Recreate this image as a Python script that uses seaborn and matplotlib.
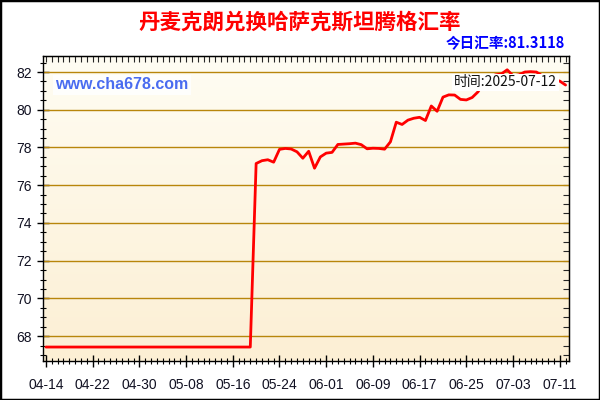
import matplotlib
matplotlib.use("Agg")
import matplotlib.pyplot as plt
import matplotlib.dates as mdates
from matplotlib.colors import LinearSegmentedColormap
from matplotlib.patches import Rectangle
from matplotlib.ticker import MultipleLocator
import numpy as np
import pandas as pd
import seaborn as sns

# daily DKK -> KZT rate, 2025-04-14 .. 2025-07-12
start_date = "2025-04-14"
end_date = "2025-07-12"
rates = [
    67.42, 67.42, 67.42, 67.42, 67.42, 67.42, 67.42, 67.42, 67.42, 67.42,
    67.42, 67.42, 67.42, 67.42, 67.42, 67.42, 67.42, 67.42, 67.42, 67.42,
    67.42, 67.42, 67.42, 67.42, 67.42, 67.42, 67.42, 67.42, 67.42, 67.42,
    67.42, 67.42, 67.42, 67.42, 67.42, 67.42, 77.15, 77.30, 77.35, 77.22,
    77.90, 77.95, 77.92, 77.77, 77.43, 77.80, 76.90, 77.50, 77.70, 77.74,
    78.16, 78.18, 78.20, 78.23, 78.15, 77.93, 77.96, 77.95, 77.91, 78.30,
    79.34, 79.22, 79.45, 79.55, 79.60, 79.43, 80.20, 79.92, 80.67, 80.79,
    80.78, 80.55, 80.52, 80.65, 80.95, 81.45, 81.75, 81.85, 81.90, 82.12,
    81.80, 81.85, 82.00, 82.02, 82.00, 81.80, 81.70, 81.60, 81.52, 81.31,
]
tick_labels = ["04-14", "04-22", "04-30", "05-08", "05-16", "05-24",
               "06-01", "06-09", "06-17", "06-25", "07-03", "07-11"]
y_ticks = [68, 70, 72, 74, 76, 78, 80, 82]

title = "丹麦克朗兑换哈萨克斯坦腾格汇率"
today_rate = "今日汇率:81.3118"
stamp = "时间:2025-07-12"
site = "www.cha678.com"

dates = pd.date_range(start_date, end_date, freq="D")
df = pd.DataFrame({"date": dates, "rate": rates})

sns.set_style("ticks")
plt.rcParams["font.family"] = ["Liberation Sans", "Noto Sans CJK SC", "DejaVu Sans"]
cjk = ["Noto Sans CJK SC", "DejaVu Sans"]

fig = plt.figure(figsize=(6, 4), dpi=100)
fig.patch.set_facecolor("white")
ax = fig.add_axes([43 / 600, 1 - 361 / 400, 526 / 600, 305 / 400])

# cream gradient background
bg = LinearSegmentedColormap.from_list("bg", ["#fcefd4", "#fffdf3"])
ax.imshow(np.linspace(0, 1, 200)[:, None], extent=[0, 1, 0, 1], transform=ax.transAxes,
          aspect="auto", cmap=bg, origin="lower", zorder=0)

for v in y_ticks:
    ax.axhline(v, color="#b8860b", lw=1, zorder=1)

sns.lineplot(data=df, x="date", y="rate", ax=ax, color="#ff0000", lw=2, zorder=3)

ax.set_xlim(pd.Timestamp(start_date) - pd.Timedelta(hours=12),
            pd.Timestamp(end_date) + pd.Timedelta(hours=14))
ax.set_ylim(66.68, 82.85)
ax.set_xlabel("")
ax.set_ylabel("")

ax.set_xticks([pd.Timestamp("2025-" + t) for t in tick_labels])
ax.set_xticklabels(tick_labels)
ax.xaxis.set_minor_locator(mdates.DayLocator())
ax.set_yticks(y_ticks)
ax.yaxis.set_minor_locator(MultipleLocator(0.5))

ax.tick_params(axis="both", which="major", direction="inout", length=8, width=1,
               labelsize=10, labelcolor="#111122", color="black", pad=4)
ax.tick_params(axis="both", which="minor", direction="inout", length=5, width=0.8, color="black")
ax.tick_params(axis="x", which="major", pad=8)

# inner ticks on top and right
sec_x = ax.secondary_xaxis("top")
sec_x.set_xticks([pd.Timestamp("2025-" + t) for t in tick_labels])
sec_x.xaxis.set_minor_locator(mdates.DayLocator())
sec_x.tick_params(which="both", direction="in", length=4, width=0.8, labeltop=False)
sec_y = ax.secondary_yaxis("right")
sec_y.set_yticks(y_ticks)
sec_y.yaxis.set_minor_locator(MultipleLocator(0.5))
sec_y.tick_params(which="both", direction="in", length=4, width=0.8, labelright=False)

for s in ax.spines.values():
    s.set_color("black")
    s.set_linewidth(1)

ax.text(0.023, 0.905, site, transform=ax.transAxes, ha="left", va="center",
        fontsize=11.5, fontweight="bold", color="#4a6cf0", zorder=5,
        bbox=dict(boxstyle="square,pad=0.15", fc="white", ec="none", alpha=0.85))
ax.text(0.977, 0.914, stamp, transform=ax.transAxes, ha="right", va="center",
        fontsize=10, color="#111111", family=cjk, zorder=5,
        bbox=dict(boxstyle="square,pad=0.12", fc="white", ec="none"))

fig.text(0.5, 0.945, title, ha="center", va="center", fontsize=15.5,
         fontweight="bold", color="#ff0000", family=cjk)
fig.text(0.942, 0.892, today_rate, ha="right", va="center", fontsize=10.5,
         fontweight="bold", color="#0000ff", family=cjk)

fig.patches.append(Rectangle((0, 0), 1, 1, transform=fig.transFigure, fill=False,
                             ec="black", lw=2.5, zorder=10))

fig.savefig("out.png", dpi=100)
plt.close(fig)
